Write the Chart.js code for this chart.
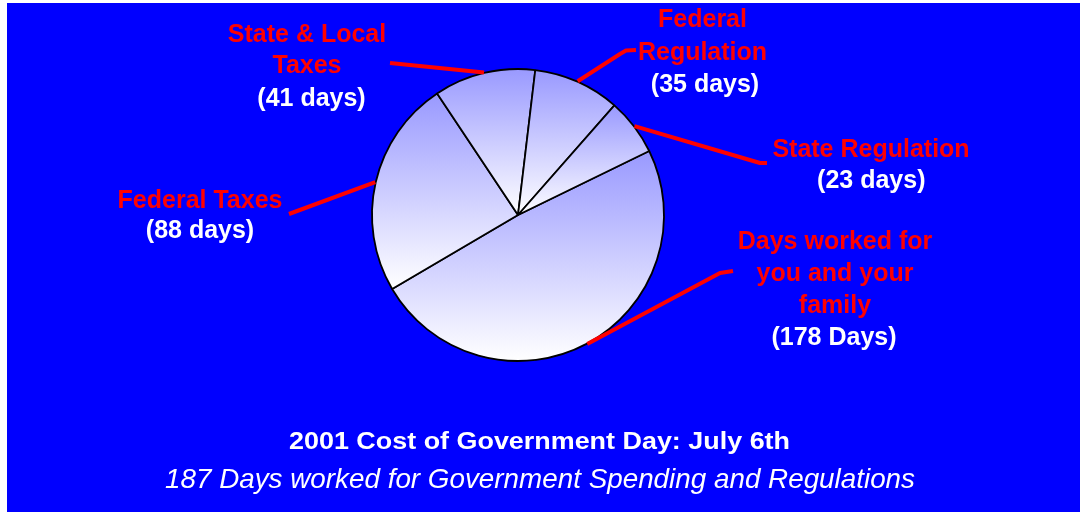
<!DOCTYPE html>
<html>
<head>
<meta charset="utf-8">
<script src="https://cdn.jsdelivr.net/npm/chart.js@4/dist/chart.umd.min.js"></script>
<style>
html,body{margin:0;padding:0;background:#ffffff;overflow:hidden}
canvas{display:block}
</style>
</head>
<body>
<canvas id="c" width="1086" height="514"></canvas>
<script>
// ---- data ----
const categories = ['Days worked for you and your family', 'Federal Taxes', 'State & Local Taxes', 'Federal Regulation', 'State Regulation'];
const dayCounts = [178, 88, 41, 35, 23];
const categoryLines = [['Days worked for', 'you and your', 'family'], ['Federal Taxes'], ['State & Local', 'Taxes'], ['Federal', 'Regulation'], ['State Regulation']];
const countLabels = ['(178 Days)', '(88 days)', '(41 days)', '(35 days)', '(23 days)'];
const titleText = '2001 Cost of Government Day: July 6th';
const subtitleText = '187 Days worked for Government Spending and Regulations';

// ---- layout of the callout labels (positions only) ----
const labelLayout = [
  { x: 835, y: 249, gap: 31.8, cx: 834, cy: 344.5, leader: [[720, 273], [733, 271]] },
  { x: 200, y: 207.5, gap: 31, cx: 200, cy: 237.5, leader: [[289, 214]] },
  { x: 307, y: 41.7, gap: 31, cx: 311.5, cy: 106, leader: [[390, 63]] },
  { x: 702.5, y: 27.3, gap: 32.7, cx: 705, cy: 92, leader: [[620, 54], [626, 50.5], [636, 50]] },
  { x: 871, y: 156.7, gap: 31, cx: 871.3, cy: 187.5, leader: [[760, 163], [767, 163]] }
];

const FONT = '"Liberation Sans", Arial, Helvetica, sans-serif';
const BLUE = '#0000ff';
const RED = '#ff0000';
const SLICE_TOP = '#9999ff';

const bgPlugin = {
  id: 'bg',
  beforeDraw(chart) {
    const ctx = chart.ctx;
    ctx.save();
    ctx.fillStyle = '#ffffff';
    ctx.fillRect(0, 0, chart.width, chart.height);
    ctx.fillStyle = BLUE;
    ctx.fillRect(7, 3, 1073, 509);
    ctx.restore();
  }
};

const gradientPlugin = {
  id: 'sliceGradient',
  beforeDatasetsDraw(chart) {
    const ctx = chart.ctx;
    const meta = chart.getDatasetMeta(0);
    meta.data.forEach(arc => {
      const x = arc.x, y = arc.y, r = arc.outerRadius;
      const a0 = arc.startAngle, a1 = arc.endAngle;
      const ys = [y, y + r * Math.sin(a0), y + r * Math.sin(a1)];
      for (let k = -4; k <= 4; k++) {
        const a = Math.PI / 2 + k * Math.PI;
        if (a > a0 && a < a1) ys.push(y + r * Math.sin(a));
      }
      const g = ctx.createLinearGradient(0, Math.min(...ys), 0, Math.max(...ys));
      g.addColorStop(0, SLICE_TOP);
      g.addColorStop(1, '#ffffff');
      arc.options.backgroundColor = g;
    });
  }
};

const leaderPlugin = {
  id: 'leaders',
  afterDatasetsDraw(chart) {
    const ctx = chart.ctx;
    const meta = chart.getDatasetMeta(0);
    ctx.save();
    ctx.strokeStyle = RED;
    ctx.lineWidth = 4;
    ctx.lineJoin = 'round';
    meta.data.forEach((arc, i) => {
      const mid = (arc.startAngle + arc.endAngle) / 2;
      const r = arc.outerRadius + 0.5;
      const sx = arc.x + r * Math.cos(mid), sy = arc.y + r * Math.sin(mid);
      ctx.beginPath();
      ctx.moveTo(sx, sy);
      labelLayout[i].leader.forEach(p => ctx.lineTo(p[0], p[1]));
      ctx.stroke();
    });
    ctx.restore();
  }
};

function stretchedText(ctx, text, cx, y, targetW) {
  const w = ctx.measureText(text).width;
  const s = targetW / w;
  ctx.save();
  ctx.translate(cx, y);
  ctx.scale(s, 1);
  ctx.fillText(text, 0, 0);
  ctx.restore();
}

const textPlugin = {
  id: 'texts',
  afterDraw(chart) {
    const ctx = chart.ctx;
    ctx.save();
    ctx.textAlign = 'center';
    ctx.textBaseline = 'alphabetic';
    categoryLines.forEach((lines, i) => {
      const L = labelLayout[i];
      ctx.font = 'bold 25px ' + FONT;
      ctx.fillStyle = RED;
      lines.forEach((t, j) => ctx.fillText(t, L.x, L.y + j * L.gap));
      ctx.fillStyle = '#ffffff';
      ctx.fillText(countLabels[i], L.cx, L.cy);
    });
    ctx.fillStyle = '#ffffff';
    ctx.font = 'bold 24px ' + FONT;
    stretchedText(ctx, titleText, 539.5, 448.5, 501);
    ctx.font = 'italic 28px ' + FONT;
    stretchedText(ctx, subtitleText, 540, 488.3, 750);
    ctx.restore();
  }
};

new Chart(document.getElementById('c'), {
  type: 'pie',
  data: {
    labels: categories,
    datasets: [{
      data: dayCounts,
      backgroundColor: () => '#ccccff',
      borderColor: '#000000',
      borderWidth: 1.8,
      hoverOffset: 0
    }]
  },
  options: {
    responsive: false,
    animation: false,
    events: [],
    rotation: 64,
    radius: 146,
    layout: { padding: { left: 0, right: 50, top: 0, bottom: 84 } },
    plugins: {
      legend: { display: false },
      title: { display: false },
      tooltip: { enabled: false }
    }
  },
  plugins: [bgPlugin, gradientPlugin, leaderPlugin, textPlugin]
});
</script>
</body>
</html>
